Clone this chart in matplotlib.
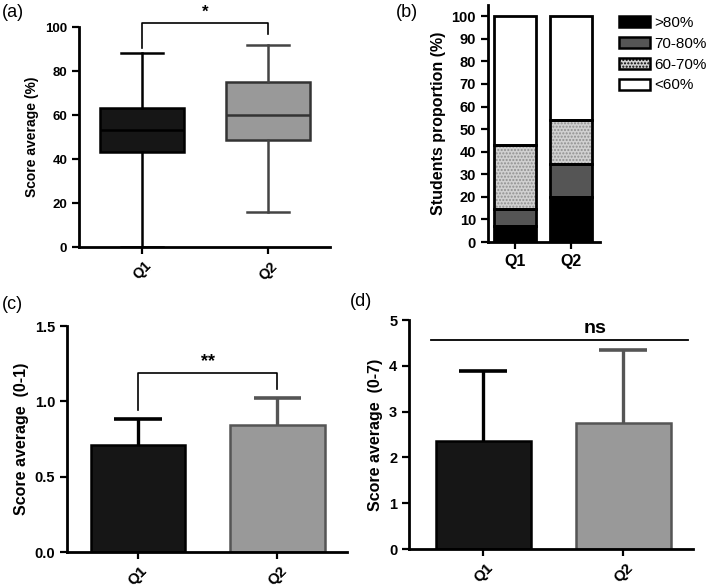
import matplotlib
matplotlib.use('Agg')
from matplotlib import pyplot as plt
from matplotlib.patches import Patch

plt.rcParams['font.family'] = ['Liberation Sans', 'DejaVu Sans']
plt.rcParams['font.weight'] = 'bold'
plt.rcParams['axes.labelweight'] = 'bold'

# 数据
groups = ['Q1', 'Q2']

# (a) box plot stats
box_low = [0, 16]
box_q1 = [43, 48.5]
box_med = [53, 60]
box_q3 = [63, 75]
box_high = [88, 92]

# (b) stacked proportions
cat_labels = ['>80%', '70-80%', '60-70%', '<60%']
prop_gt80 = [7, 20]
prop_70_80 = [7.5, 14.5]
prop_60_70 = [28.5, 19.5]
prop_lt60 = [57, 46]

# (c) score 0-1
c_mean = [0.71, 0.84]
c_err = [0.175, 0.18]

# (d) score 0-7
d_mean = [2.35, 2.76]
d_err = [1.53, 1.59]

dark = '#161616'
grey = '#999999'
edge_grey = '#555555'

fig = plt.figure(figsize=(7.09, 5.87), dpi=100)


def style(ax, tick_size):
    for s in ['top', 'right']:
        ax.spines[s].set_visible(False)
    for s in ['left', 'bottom']:
        ax.spines[s].set_linewidth(2)
    ax.tick_params(width=1.6, length=5, labelsize=tick_size)


def up_errors(ax, means, errs, cap_half):
    # 只画向上的误差线
    cols = ['black', edge_grey]
    for i in range(len(means)):
        top = means[i] + errs[i]
        ax.vlines(i, means[i], top, color=cols[i], lw=2.4, zorder=1)
        ax.hlines(top, i - cap_half, i + cap_half, color=cols[i], lw=2.6, zorder=1)


# ---------- (a)
ax1 = fig.add_axes([0.1114, 0.5792, 0.354, 0.3748])
stats = []
for i in range(len(groups)):
    stats.append({'whislo': box_low[i], 'q1': box_q1[i], 'med': box_med[i],
                  'q3': box_q3[i], 'whishi': box_high[i], 'fliers': []})
bp = ax1.bxp(stats, positions=[0, 1], widths=0.67, patch_artist=True,
             showfliers=False)
for i, c in enumerate([dark, grey]):
    ec = 'black' if i == 0 else '#333333'
    bp['boxes'][i].set(facecolor=c, edgecolor=ec, linewidth=1.8)
    bp['medians'][i].set(color='black' if i == 0 else '#333333', linewidth=1.8)
for j, w in enumerate(bp['whiskers']):
    w.set(color='black' if j < 2 else '#444444', linewidth=1.8)
for j, cp in enumerate(bp['caps']):
    cp.set(color='black' if j < 2 else '#444444', linewidth=1.8)
ax1.set_xlim(-0.5, 1.49)
ax1.set_ylim(0, 100)
ax1.set_yticks([0, 20, 40, 60, 80, 100])
ax1.set_xticks([0, 1])
ax1.set_xticklabels(groups, rotation=45)
ax1.set_ylabel('Score average (%)', fontsize=10)
style(ax1, 9.5)
ax1.tick_params(axis='x', labelsize=10.5)
ax1.plot([0, 0, 1, 1], [90.5, 102, 102, 97], color='black', lw=1.2, clip_on=False)
ax1.text(0.5, 103.5, '*', ha='center', va='bottom', fontsize=12)

# ---------- (b)
ax2 = fig.add_axes([0.688, 0.5877, 0.158, 0.4038])
x = [0, 1]
bw = 0.75
bottom = [0, 0]
fills = [('black', None, 'black'), ('#555555', None, '#555555'),
         ('#d0d0d0', '.....', '#8f8f8f'), ('white', None, 'white')]
series = [prop_gt80, prop_70_80, prop_60_70, prop_lt60]
handles = []
for vals, (fc, hatch, hc), lab in zip(series, fills, cat_labels):
    ax2.bar(x, vals, bw, bottom=bottom, color=fc, hatch=hatch, edgecolor=hc,
            linewidth=0, zorder=2)
    ax2.bar(x, vals, bw, bottom=bottom, facecolor='none', edgecolor='black',
            linewidth=2, zorder=3)
    handles.append(Patch(facecolor=fc, hatch=hatch, edgecolor='black', linewidth=1.8,
                         label=lab))
    bottom = [b + v for b, v in zip(bottom, vals)]
ax2.set_xlim(-0.48, 1.52)
ax2.set_ylim(0, 105)
ax2.set_yticks(range(0, 101, 10))
ax2.set_xticks(x)
ax2.set_xticklabels(groups)
ax2.set_ylabel('Students proportion (%)', fontsize=11.5)
style(ax2, 10.5)
ax2.tick_params(axis='x', labelsize=11.5)
ax2.legend(handles=handles, loc='upper left', bbox_to_anchor=(1.12, 0.98),
           frameon=False, prop={'size': 11, 'weight': 'normal'}, handlelength=2.0,
           handleheight=0.75, handletextpad=0.3, labelspacing=0.45, borderaxespad=0)

# ---------- (c)
ax3 = fig.add_axes([0.0945, 0.0596, 0.395, 0.385])
up_errors(ax3, c_mean, c_err, 0.17)
ax3.bar([0, 1], c_mean, 0.68, color=[dark, grey], edgecolor=['black', edge_grey],
        linewidth=1.8, zorder=2)
ax3.set_xlim(-0.51, 1.5)
ax3.set_ylim(0, 1.5)
ax3.set_yticks([0.0, 0.5, 1.0, 1.5])
ax3.set_xticks([0, 1])
ax3.set_xticklabels(groups, rotation=45)
ax3.set_ylabel('Score average  (0-1)', fontsize=11.5)
style(ax3, 10.5)
ax3.tick_params(axis='x', labelsize=11)
ax3.plot([0, 0, 1, 1], [0.94, 1.19, 1.19, 1.08], color='black', lw=1.2)
ax3.text(0.5, 1.21, '**', ha='center', va='bottom', fontsize=13)

# ---------- (d)
ax4 = fig.add_axes([0.577, 0.0647, 0.4006, 0.390])
up_errors(ax4, d_mean, d_err, 0.17)
ax4.bar([0, 1], d_mean, 0.68, color=[dark, grey], edgecolor=['black', edge_grey],
        linewidth=1.8, zorder=2)
ax4.set_xlim(-0.53, 1.5)
ax4.set_ylim(0, 5)
ax4.set_yticks([0, 1, 2, 3, 4, 5])
ax4.set_xticks([0, 1])
ax4.set_xticklabels(groups, rotation=45)
ax4.set_ylabel('Score average  (0-7)', fontsize=11.5)
style(ax4, 10.5)
ax4.tick_params(axis='x', labelsize=11)
ax4.plot([-0.37, 1.46], [4.56, 4.56], color='black', lw=1.3)
ax4.text(0.8, 4.62, 'ns', ha='center', va='bottom', fontsize=14)

# 面板标签
for px, py, lab in [(0.003, 0.979, '(a)'), (0.558, 0.979, '(b)'),
                    (0.003, 0.481, '(c)'), (0.493, 0.486, '(d)')]:
    fig.text(px, py, lab, fontsize=13, va='center', fontweight='normal')

fig.savefig('out.png', dpi=100)
